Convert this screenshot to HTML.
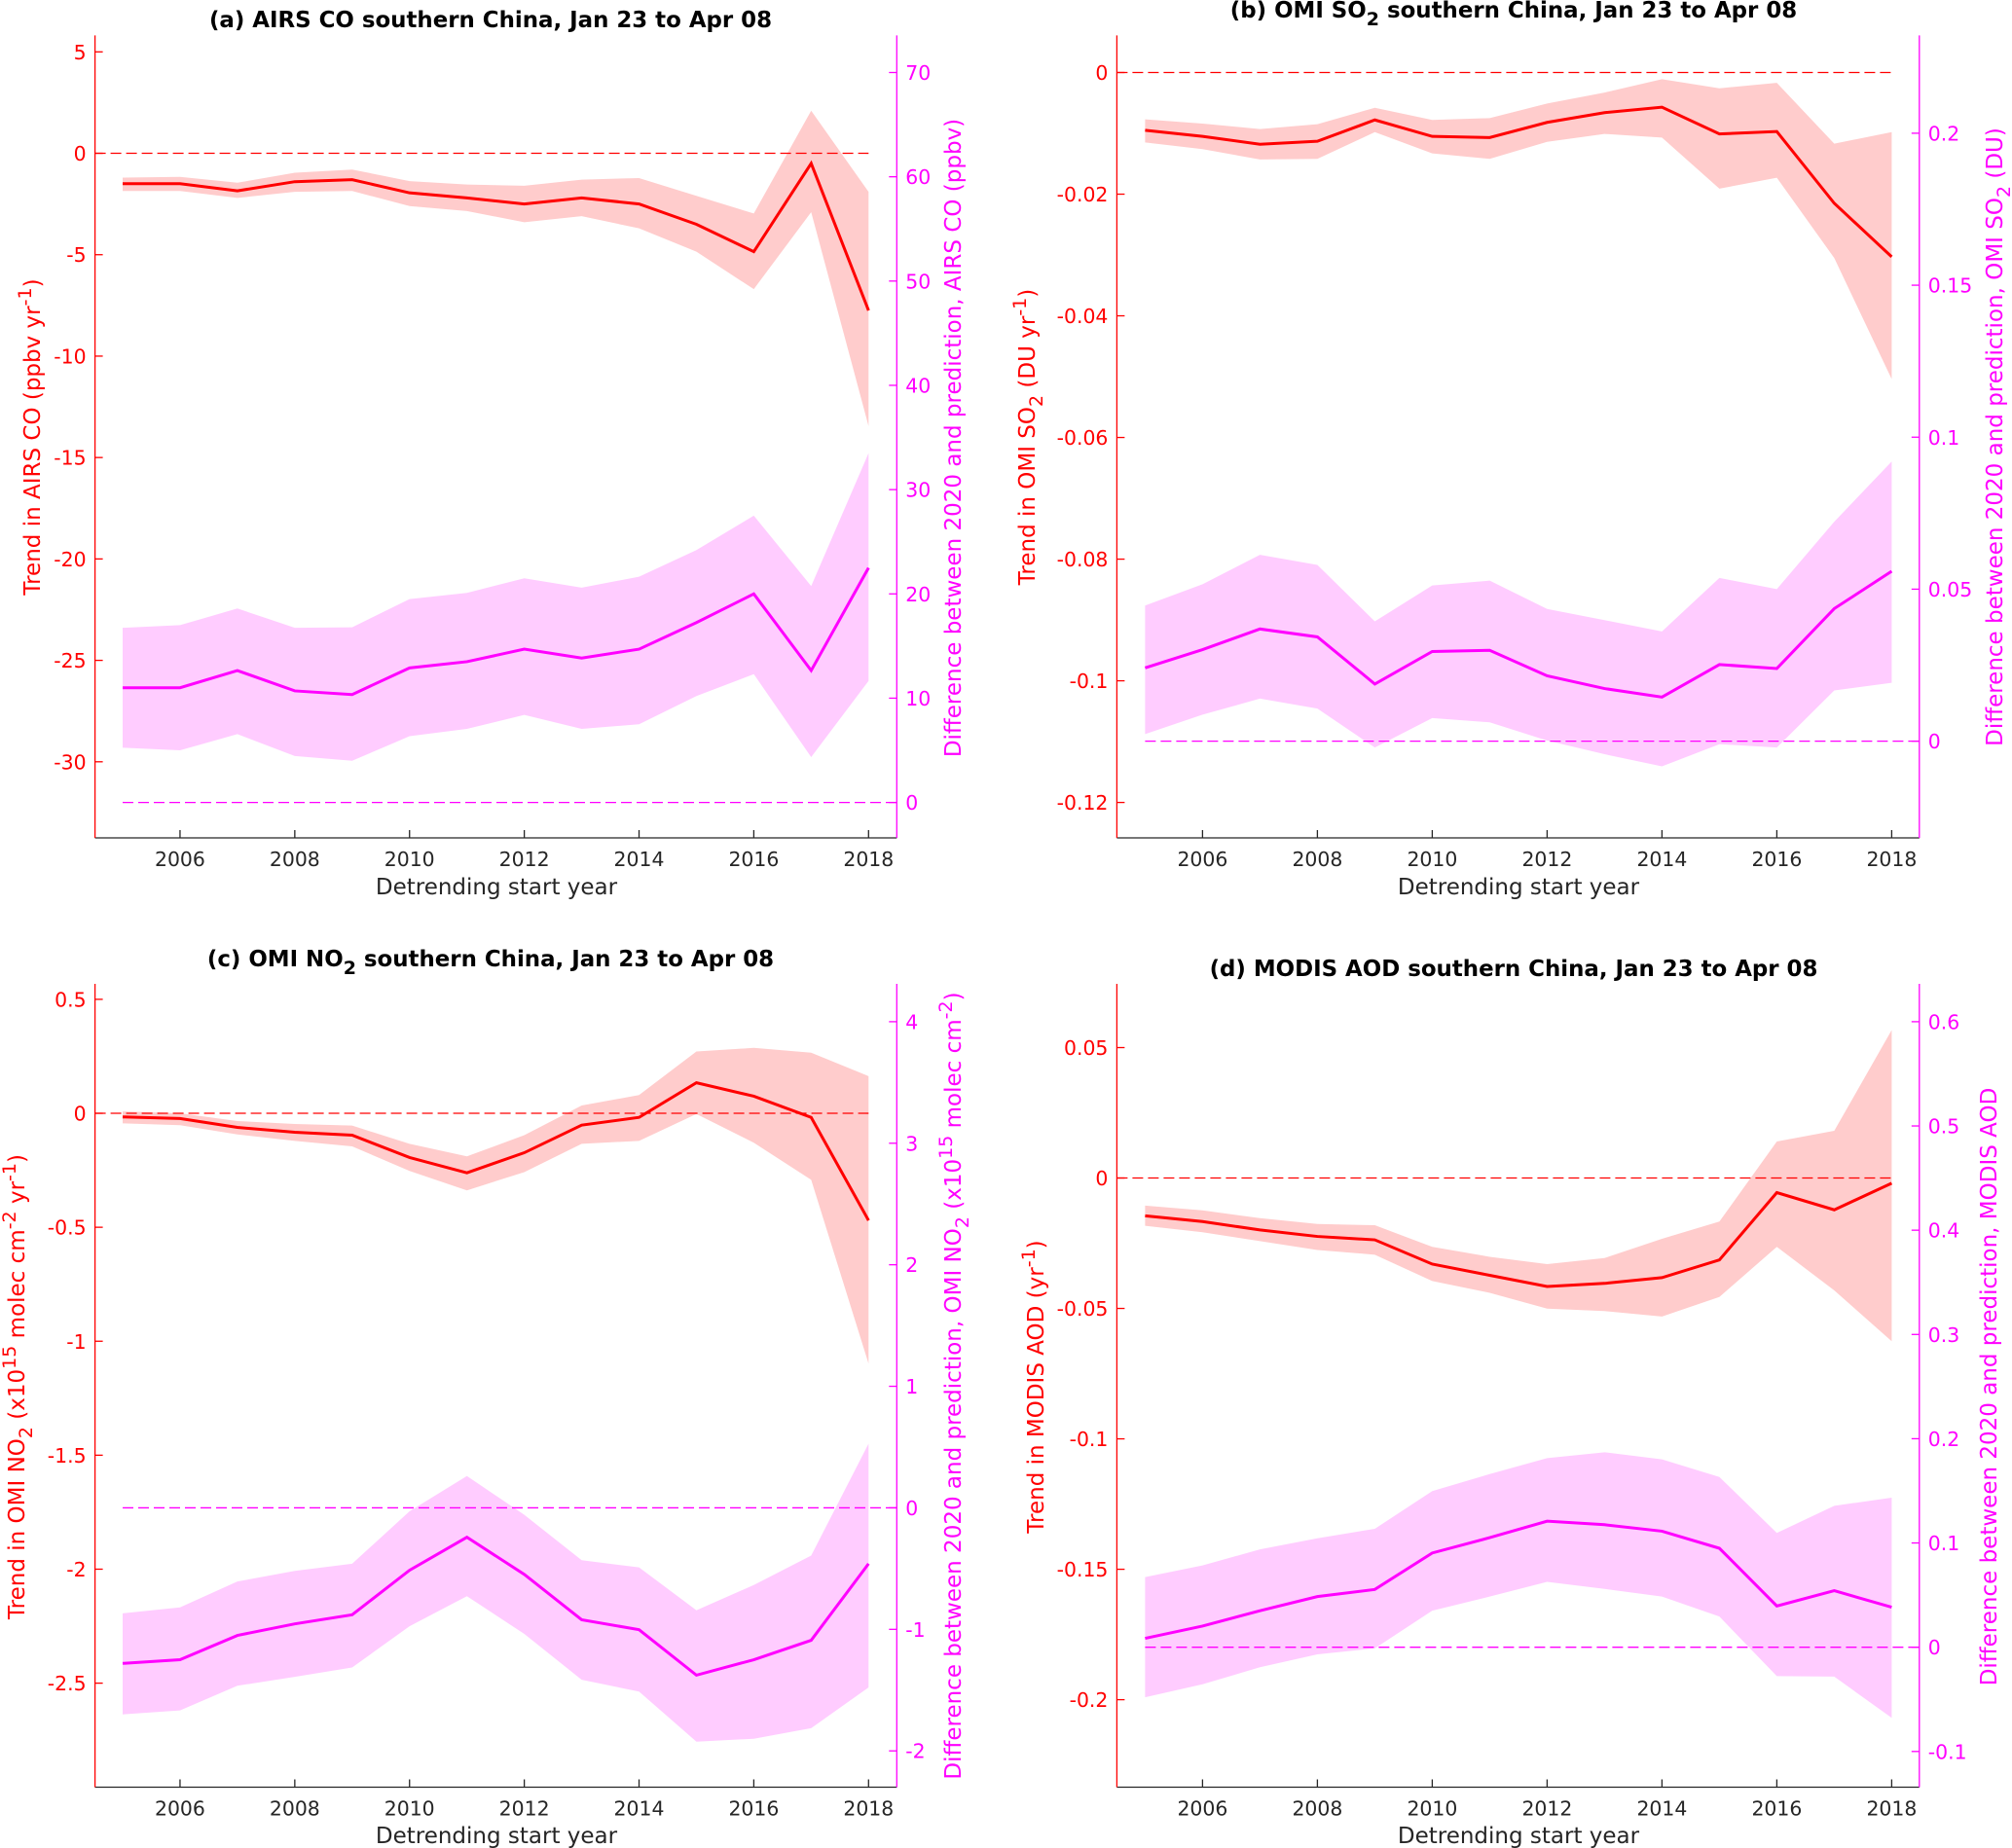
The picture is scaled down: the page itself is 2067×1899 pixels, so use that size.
<!DOCTYPE html>
<html lang="en">
<head>
<meta charset="utf-8">
<title>Trends and differences, southern China</title>
<style>
  html, body { margin: 0; padding: 0; background: #fff; }
  svg { display: block; font-family: "DejaVu Sans", "Liberation Sans", sans-serif; }
  .title { font-size: 22.9px; font-weight: bold; fill: #000; text-anchor: middle; }
  .xlabel { font-size: 23px; fill: #262626; text-anchor: middle; }
  .tick { font-size: 20.4px; }
  .red { fill: #ff0000; }
  .mag { fill: #ff00ff; }
  .ylabel { font-size: 23px; text-anchor: middle; }
  .s { font-size: 19px; }
</style>
</head>
<body>
<svg id="figure" xmlns="http://www.w3.org/2000/svg" width="2067" height="1899" viewBox="0 0 2067 1899">
  <rect x="0" y="0" width="2067" height="1899" fill="#ffffff"/>

  <g id="panel-a"></g>
  <g id="panel-b"></g>
  <g id="panel-c"></g>
  <g id="panel-d"></g>

  <text class="title" x="504" y="28">(a) AIRS CO southern China, Jan 23 to Apr 08</text>
  <text class="title" x="1555" y="18">(b) OMI SO<tspan class="s" dy="8">2</tspan><tspan dy="-8"> southern China, Jan 23 to Apr 08</tspan></text>
  <text class="title" x="504" y="993">(c) OMI NO<tspan class="s" dy="8">2</tspan><tspan dy="-8"> southern China, Jan 23 to Apr 08</tspan></text>
  <text class="title" x="1555" y="1003">(d) MODIS AOD southern China, Jan 23 to Apr 08</text>

  <text class="xlabel" x="510" y="919">Detrending start year</text>
  <text class="xlabel" x="1560" y="919">Detrending start year</text>
  <text class="xlabel" x="510" y="1894">Detrending start year</text>
  <text class="xlabel" x="1560" y="1894">Detrending start year</text>

  <text class="ylabel red" transform="translate(41,449) rotate(-90)">Trend in AIRS CO (ppbv yr<tspan class="s" dy="-9">-1</tspan><tspan dy="9">)</tspan></text>
  <text class="ylabel mag" transform="translate(987,450) rotate(-90)">Difference between 2020 and prediction, AIRS CO (ppbv)</text>

  <text class="ylabel red" transform="translate(1063,449) rotate(-90)">Trend in OMI SO<tspan class="s" dy="8">2</tspan><tspan dy="-8"> (DU yr</tspan><tspan class="s" dy="-9">-1</tspan><tspan dy="9">)</tspan></text>
  <text class="ylabel mag" transform="translate(2057,449) rotate(-90)">Difference between 2020 and prediction, OMI SO<tspan class="s" dy="8">2</tspan><tspan dy="-8"> (DU)</tspan></text>

  <text class="ylabel red" transform="translate(25,1425) rotate(-90)">Trend in OMI NO<tspan class="s" dy="8">2</tspan><tspan dy="-8"> (x10</tspan><tspan class="s" dy="-9">15</tspan><tspan dy="9"> molec cm</tspan><tspan class="s" dy="-9">-2</tspan><tspan dy="9"> yr</tspan><tspan class="s" dy="-9">-1</tspan><tspan dy="9">)</tspan></text>
  <text class="ylabel mag" transform="translate(987,1424) rotate(-90)">Difference between 2020 and prediction, OMI NO<tspan class="s" dy="8">2</tspan><tspan dy="-8"> (x10</tspan><tspan class="s" dy="-9">15</tspan><tspan dy="9"> molec cm</tspan><tspan class="s" dy="-9">-2</tspan><tspan dy="9">)</tspan></text>

  <text class="ylabel red" transform="translate(1072,1425) rotate(-90)">Trend in MODIS AOD (yr<tspan class="s" dy="-9">-1</tspan><tspan dy="9">)</tspan></text>
  <text class="ylabel mag" transform="translate(2051,1425) rotate(-90)">Difference between 2020 and prediction, MODIS AOD</text>
</svg>

<script>
// ---- shared categories ----
const years = [2005,2006,2007,2008,2009,2010,2011,2012,2013,2014,2015,2016,2017,2018];
const xTickYears = [2006,2008,2010,2012,2014,2016,2018];

// ---- panel (a) AIRS CO ----
const aTrend = [-1.5,-1.5,-1.85,-1.4,-1.3,-1.95,-2.2,-2.5,-2.2,-2.5,-3.5,-4.85,-0.5,-7.75];
const aTrendUpper = [-1.2,-1.16,-1.45,-0.96,-0.8,-1.37,-1.54,-1.6,-1.3,-1.22,-2.1,-2.97,2.1,-1.9];
const aTrendLower = [-1.86,-1.86,-2.2,-1.9,-1.86,-2.6,-2.85,-3.4,-3.1,-3.7,-4.85,-6.7,-2.9,-13.45];
const aDiff = [11,11,12.65,10.7,10.35,12.9,13.5,14.7,13.85,14.7,17.25,20,12.65,22.5];
const aDiffUpper = [16.75,17,18.6,16.75,16.8,19.5,20.1,21.5,20.6,21.65,24.2,27.5,20.75,33.5];
const aDiffLower = [5.25,5,6.55,4.45,4,6.35,7.05,8.4,7.05,7.5,10.2,12.3,4.35,11.65];
const aLeftTicks = [5,0,-5,-10,-15,-20,-25,-30];
const aRightTicks = [70,60,50,40,30,20,10,0];

// ---- panel (b) OMI SO2 ----
const bTrend = [-.0095,-.0105,-.0118,-.0113,-.0078,-.0105,-.0107,-.0082,-.0066,-.0057,-.0101,-.0097,-.0215,-.0303];
const bTrendUpper = [-.0077,-.0084,-.0093,-.0085,-.0058,-.0078,-.0075,-.0051,-.0033,-.0011,-.0026,-.0017,-.0117,-.0098];
const bTrendLower = [-.0115,-.0126,-.0143,-.0142,-.0098,-.0133,-.0142,-.0114,-.0101,-.0107,-.0191,-.0173,-.0305,-.0504];
const bDiff = [.0241,.0301,.0369,.0343,.0188,.0295,.0299,.0215,.0173,.0145,.0252,.0239,.0436,.0559];
const bDiffUpper = [.0446,.0516,.0613,.058,.0394,.0512,.0528,.0435,.0398,.0361,.0537,.05,.0722,.092];
const bDiffLower = [.0023,.0087,.014,.0107,-.0021,.0076,.0062,.0002,-.0043,-.0083,-.001,-.0021,.0167,.0192];
const bLeftTicks = [0,-0.02,-0.04,-0.06,-0.08,-0.1,-0.12];
const bRightTicks = [0.2,0.15,0.1,0.05,0];

// ---- panel (c) OMI NO2 ----
const cTrend = [-.016,-.023,-.062,-.083,-.096,-.194,-.261,-.173,-.052,-.018,.134,.075,-.018,-.47];
const cTrendUpper = [.008,0,-.034,-.047,-.054,-.134,-.189,-.096,.034,.08,.271,.287,.266,.163];
const cTrendLower = [-.044,-.052,-.093,-.121,-.145,-.253,-.338,-.258,-.134,-.121,-.003,-.129,-.292,-1.098];
const cDiff = [-1.28,-1.25,-1.05,-.955,-.88,-.514,-.242,-.548,-.921,-1.003,-1.377,-1.25,-1.09,-.46];
const cDiffUpper = [-.868,-.819,-.606,-.519,-.46,-.029,.262,-.058,-.431,-.49,-.843,-.635,-.393,.528];
const cDiffLower = [-1.70,-1.667,-1.464,-1.391,-1.314,-.974,-.727,-1.037,-1.415,-1.512,-1.924,-1.9,-1.813,-1.478];
const cLeftTicks = [0.5,0,-0.5,-1,-1.5,-2,-2.5];
const cRightTicks = [4,3,2,1,0,-1,-2];

// ---- panel (d) MODIS AOD ----
const dTrend = [-.0145,-.0167,-.0199,-.0224,-.0237,-.033,-.0373,-.0416,-.0404,-.0382,-.0314,-.0056,-.0122,-.002];
const dTrendUpper = [-.0106,-.0124,-.0154,-.0176,-.0181,-.0264,-.0302,-.033,-.0307,-.0233,-.0167,.014,.0181,.0567];
const dTrendLower = [-.0183,-.0208,-.0242,-.0276,-.0294,-.0395,-.044,-.0501,-.051,-.0531,-.0456,-.0264,-.0431,-.0626];
const dDiff = [.0085,.0203,.035,.0486,.0554,.0904,.1051,.1209,.1175,.1113,.0949,.0395,.0542,.0384];
const dDiffUpper = [.0672,.0785,.0938,.1045,.1136,.1497,.1661,.1814,.187,.1802,.1633,.1096,.1356,.1435];
const dDiffLower = [-.048,-.0356,-.0192,-.0068,-.0011,.035,.0486,.0627,.0559,.0486,.0294,-.0277,-.0282,-.0678];
const dLeftTicks = [0.05,0,-0.05,-0.1,-0.15,-0.2];
const dRightTicks = [0.6,0.5,0.4,0.3,0.2,0.1,0,-0.1];

const SVG_NS = 'http://www.w3.org/2000/svg';

function linearAxis(v0, p0, v1, p1) {
  return function (v) { return p0 + (v - v0) * (p1 - p0) / (v1 - v0); };
}

function make(parent, tag, attrs) {
  const node = document.createElementNS(SVG_NS, tag);
  for (const k in attrs) node.setAttribute(k, attrs[k]);
  parent.appendChild(node);
  return node;
}

function pointsOf(xs, ys, xScale, yScale) {
  return xs.map(function (x, i) { return xScale(x).toFixed(2) + ',' + yScale(ys[i]).toFixed(2); });
}

function drawBand(g, xScale, yScale, upper, lower, color, name) {
  const top = pointsOf(years, upper, xScale, yScale);
  const bottom = pointsOf(years, lower, xScale, yScale).reverse();
  const band = make(g, 'polygon', { points: top.concat(bottom).join(' '), fill: color, stroke: 'none' });
  
  
}

function drawLine(g, xScale, yScale, values, color, name) {
  const line = make(g, 'polyline', {
    points: pointsOf(years, values, xScale, yScale).join(' '),
    fill: 'none', stroke: color, 'stroke-width': 3, 'stroke-linejoin': 'miter'
  });
  
  
}

function drawPanel(p) {
  const g = document.getElementById('panel-' + p.id);
  const x = linearAxis(2005, p.x2005, 2018, p.x2018);
  const yL = linearAxis(p.leftV0, p.leftP0, p.leftV1, p.leftP1);
  const yR = linearAxis(p.rightV0, p.rightP0, p.rightV1, p.rightP1);

  drawBand(g, x, yL, p.trendUpper, p.trendLower, '#ffcccc', p.id + '-trend-uncertainty-band');
  drawBand(g, x, yR, p.diffUpper, p.diffLower, '#ffccff', p.id + '-difference-uncertainty-band');

  const zeroL = make(g, 'line', { x1: p.left, x2: x(2018), y1: yL(0), y2: yL(0), stroke: '#ff0000', 'stroke-width': 1.3, 'stroke-dasharray': '11 5' });
  
  

  const zeroR = make(g, 'line', { x1: x(2005), x2: p.right, y1: yR(0), y2: yR(0), stroke: '#ff00ff', 'stroke-width': 1.3, 'stroke-dasharray': '11 5' });
  
  

  drawLine(g, x, yL, p.trend, '#ff0000', p.id + '-trend-line');
  drawLine(g, x, yR, p.diff, '#ff00ff', p.id + '-difference-line');

  const bottomAxis = make(g, 'line', { x1: p.left, x2: p.right, y1: p.bottom, y2: p.bottom, stroke: '#262626', 'stroke-width': 1.3 });
  
  

  const leftAxis = make(g, 'line', { x1: p.left, x2: p.left, y1: p.top, y2: p.bottom, stroke: '#ff0000', 'stroke-width': 1.3 });
  
  

  const rightAxis = make(g, 'line', { x1: p.right, x2: p.right, y1: p.top, y2: p.bottom, stroke: '#ff00ff', 'stroke-width': 1.3 });
  
  

  xTickYears.forEach(function (yr) {
    const t = make(g, 'line', { x1: x(yr), x2: x(yr), y1: p.bottom, y2: p.bottom - 8, stroke: '#262626', 'stroke-width': 1.3 });
    
    
    const lab = make(g, 'text', { x: x(yr), y: p.bottom + 29, 'text-anchor': 'middle', 'class': 'tick', fill: '#262626' });
    
    
    lab.textContent = String(yr);
  });

  p.leftTicks.forEach(function (v) {
    const t = make(g, 'line', { x1: p.left, x2: p.left + 8, y1: yL(v), y2: yL(v), stroke: '#ff0000', 'stroke-width': 1.3 });
    
    
    const lab = make(g, 'text', { x: p.left - 9, y: yL(v) + 7.5, 'text-anchor': 'end', 'class': 'tick', fill: '#ff0000' });
    
    
    lab.textContent = String(v);
  });

  p.rightTicks.forEach(function (v) {
    const t = make(g, 'line', { x1: p.right, x2: p.right - 8, y1: yR(v), y2: yR(v), stroke: '#ff00ff', 'stroke-width': 1.3 });
    
    
    const lab = make(g, 'text', { x: p.right + 9, y: yR(v) + 7.5, 'text-anchor': 'start', 'class': 'tick', fill: '#ff00ff' });
    
    
    lab.textContent = String(v);
  });
}

drawPanel({
  id: 'a', left: 97.6, right: 921.3, top: 36.4, bottom: 861, x2005: 126, x2018: 892.3,
  leftV0: 5, leftP0: 53.3, leftV1: -30, leftP1: 782.8,
  rightV0: 70, rightP0: 74.5, rightV1: 0, rightP1: 824.6,
  trend: aTrend, trendUpper: aTrendUpper, trendLower: aTrendLower,
  diff: aDiff, diffUpper: aDiffUpper, diffLower: aDiffLower,
  leftTicks: aLeftTicks, rightTicks: aRightTicks
});
drawPanel({
  id: 'b', left: 1147.4, right: 1971.8, top: 36.4, bottom: 861, x2005: 1176.4, x2018: 1943.4,
  leftV0: 0, leftP0: 74.5, leftV1: -0.12, leftP1: 824.6,
  rightV0: 0.2, rightP0: 136.9, rightV1: 0, rightP1: 761.6,
  trend: bTrend, trendUpper: bTrendUpper, trendLower: bTrendLower,
  diff: bDiff, diffUpper: bDiffUpper, diffLower: bDiffLower,
  leftTicks: bLeftTicks, rightTicks: bRightTicks
});
drawPanel({
  id: 'c', left: 97.6, right: 921.3, top: 1011, bottom: 1836.5, x2005: 126, x2018: 892.3,
  leftV0: 0.5, leftP0: 1026.9, leftV1: -2.5, leftP1: 1729.6,
  rightV0: 4, rightP0: 1049.9, rightV1: -2, rightP1: 1799.2,
  trend: cTrend, trendUpper: cTrendUpper, trendLower: cTrendLower,
  diff: cDiff, diffUpper: cDiffUpper, diffLower: cDiffLower,
  leftTicks: cLeftTicks, rightTicks: cRightTicks
});
drawPanel({
  id: 'd', left: 1147.4, right: 1971.8, top: 1011, bottom: 1836.5, x2005: 1176.4, x2018: 1943.4,
  leftV0: 0.05, leftP0: 1076.5, leftV1: -0.2, leftP1: 1746.6,
  rightV0: 0.6, rightP0: 1049.9, rightV1: -0.1, rightP1: 1799.8,
  trend: dTrend, trendUpper: dTrendUpper, trendLower: dTrendLower,
  diff: dDiff, diffUpper: dDiffUpper, diffLower: dDiffLower,
  leftTicks: dLeftTicks, rightTicks: dRightTicks
});
</script>
</body>
</html>
